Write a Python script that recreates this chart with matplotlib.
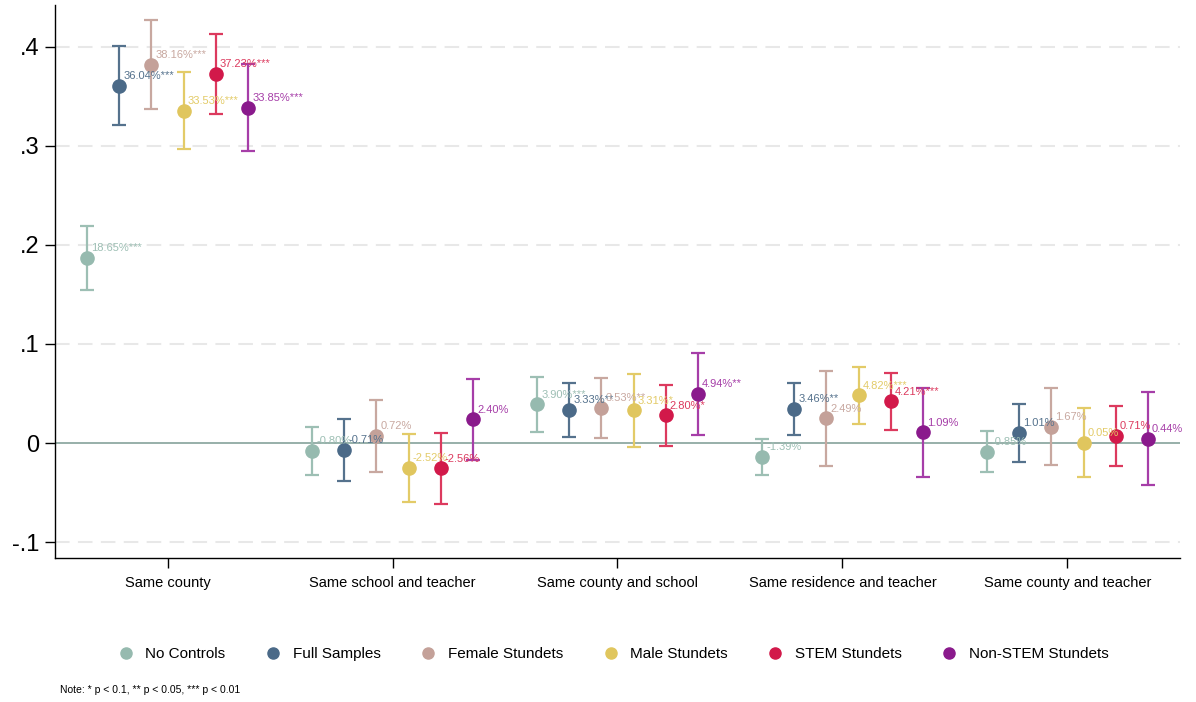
import matplotlib.pyplot as plt
import matplotlib
import numpy as np
from matplotlib.ticker import FuncFormatter

matplotlib.rcParams['font.family'] = ['Liberation Sans', 'DejaVu Sans']

# Data
categories = ['Same county', 'Same school and teacher', 'Same county and school',
              'Same residence and teacher', 'Same county and teacher']
series = ['No Controls', 'Full Samples', 'Female Stundets', 'Male Stundets',
          'STEM Stundets', 'Non-STEM Stundets']

coef = {
    'No Controls':       [0.1865, -0.0080, 0.0390, -0.0139, -0.0085],
    'Full Samples':      [0.3604, -0.0071, 0.0333, 0.0346, 0.0101],
    'Female Stundets':   [0.3816, 0.0072, 0.0353, 0.0249, 0.0167],
    'Male Stundets':     [0.3353, -0.0252, 0.0331, 0.0482, 0.0005],
    'STEM Stundets':     [0.3723, -0.0256, 0.0280, 0.0421, 0.0071],
    'Non-STEM Stundets': [0.3385, 0.0240, 0.0494, 0.0109, 0.0044],
}
ci_half = {
    'No Controls':       [0.032, 0.024, 0.028, 0.018, 0.021],
    'Full Samples':      [0.040, 0.031, 0.0275, 0.026, 0.0295],
    'Female Stundets':   [0.045, 0.036, 0.030, 0.048, 0.039],
    'Male Stundets':     [0.039, 0.034, 0.037, 0.0285, 0.035],
    'STEM Stundets':     [0.040, 0.036, 0.031, 0.029, 0.0305],
    'Non-STEM Stundets': [0.044, 0.041, 0.041, 0.045, 0.047],
}
stars = {
    'No Controls':       ['***', '', '***', '', ''],
    'Full Samples':      ['***', '', '**', '**', ''],
    'Female Stundets':   ['***', '', '**', '', ''],
    'Male Stundets':     ['***', '', '*', '***', ''],
    'STEM Stundets':     ['***', '', '*', '***', ''],
    'Non-STEM Stundets': ['***', '', '**', '', ''],
}

# Colours: marker / error bar
marker_colors = ['#96baaf', '#4b6a88', '#c4a199', '#e0c65e', '#d2194a', '#8a1a8c']
bar_colors = ['#9dbfb4', '#55728d', '#c8a8a0', '#e3cb68', '#dc3a5e', '#a63ea8']

fig = plt.figure(figsize=(11.96, 7.02), dpi=100)
ax = fig.add_axes([0.046, 0.205, 0.9406, 0.788])

x = np.arange(1, len(categories) + 1)
step = 0.143

ax.axhline(0, color='#8fa9a3', linewidth=1.3, zorder=1)

for i, name in enumerate(series):
    xs = x + (i - 2.5) * step
    ys = np.array(coef[name])
    err = np.array(ci_half[name])
    ax.errorbar(xs, ys, yerr=err, fmt='none', ecolor=bar_colors[i],
                elinewidth=1.6, capsize=5, capthick=1.6, zorder=2)
    ax.plot(xs, ys, 'o', color=marker_colors[i], markersize=9.5,
            markeredgecolor=marker_colors[i], zorder=3, label=name)
    for xv, yv, st in zip(xs, ys, stars[name]):
        ax.annotate(f'{yv * 100:.2f}%{st}', (xv, yv), xytext=(3, 7),
                    textcoords='offset points', ha='left', va='center',
                    fontsize=8, color=bar_colors[i], zorder=4)

ax.set_xlim(0.5, 5.5)
ax.set_ylim(-0.116, 0.442)
ax.set_xticks(x)
ax.set_xticklabels(categories, fontsize=10.5)
ax.set_yticks([-0.1, 0, 0.1, 0.2, 0.3, 0.4])


def fmt(v, pos):
    if abs(v) < 1e-9:
        return '0'
    s = f'{v:.1f}'
    return s.replace('0.', '.')


ax.yaxis.set_major_formatter(FuncFormatter(fmt))
ax.tick_params(axis='y', labelsize=17, length=7, width=1, pad=4)
ax.tick_params(axis='x', length=7, width=1, pad=6)

for yv in [-0.1, 0.1, 0.2, 0.3, 0.4]:
    ax.axhline(yv, color='#e8e8e8', linewidth=1.5, linestyle=(0, (7, 4)), zorder=0)

ax.spines['top'].set_visible(False)
ax.spines['right'].set_visible(False)
ax.spines['left'].set_linewidth(1.0)
ax.spines['bottom'].set_linewidth(1.0)

leg_handles = [plt.Line2D([], [], marker='o', linestyle='none', color=c, markersize=8)
               for c in marker_colors]
fig.legend(leg_handles, series, loc='center', bbox_to_anchor=(0.513, 0.068),
           ncol=6, frameon=False, fontsize=11, handlelength=1.0,
           handletextpad=0.8, columnspacing=2.6)

fig.text(0.05, 0.017, 'Note: * p < 0.1, ** p < 0.05, *** p < 0.01', fontsize=7.5, va='center')

plt.savefig('out.png', dpi=100)
